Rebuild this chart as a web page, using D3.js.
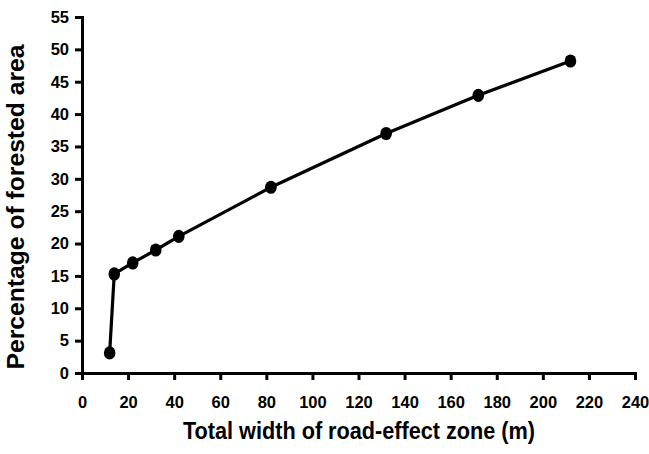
<!DOCTYPE html>
<meta charset="utf-8">
<title>Forested area vs road-effect zone</title>
<style>
  body { margin: 0; background: #fff; }
  text { font-family: 'Liberation Sans', Arial, sans-serif; font-weight: bold; fill: #000; }
  .axis path, .axis line { stroke: #000; stroke-width: 3; }
</style>
<body>
<svg width="649" height="454"></svg>
<script src="https://cdn.jsdelivr.net/npm/d3@7"></script>
<script>

// road-effect zone width (m) and percentage of forested area
var zoneWidth = [12, 14, 22, 32, 42, 82, 132, 172, 212];
var forestPct = [3.1, 15.3, 17.0, 19.0, 21.1, 28.7, 37.0, 42.9, 48.2];
var xTicks = d3.range(0, 241, 20);
var yTicks = d3.range(0, 56, 5);

var svg = d3.select("svg"),
    margin = {top: 17, right: 14, bottom: 81, left: 82},
    width = +svg.attr("width") - margin.left - margin.right,
    height = +svg.attr("height") - margin.top - margin.bottom;

var g = svg.append("g")
    .attr("transform", "translate(" + margin.left + "," + margin.top + ")");

var x = d3.scaleLinear().domain([0, 240]).range([0, width]);
var y = d3.scaleLinear().domain([0, 55]).range([height, 0]);

var xAxis = g.append("g")
    .attr("class", "axis")
    .attr("transform", "translate(0," + height + ")")
    .call(d3.axisBottom(x).tickValues(xTicks).tickSize(7).tickSizeOuter(0).tickPadding(16));

var yAxis = g.append("g")
    .attr("class", "axis")
    .call(d3.axisLeft(y).tickValues(yTicks).tickSize(7).tickSizeOuter(0).tickPadding(6));

xAxis.selectAll("text").style("font-size", "16.5px").attr("fill", "#000");
yAxis.selectAll("text").style("font-size", "16.5px").attr("fill", "#000");
svg.selectAll(".axis path").attr("stroke-linecap", "square");

var pts = zoneWidth.map(function (d, i) { return [d, forestPct[i]]; });

var line = d3.line()
    .x(function (d) { return x(d[0]); })
    .y(function (d) { return y(d[1]); });

g.append("path")
    .datum(pts)
    .attr("fill", "none")
    .attr("stroke", "#000")
    .attr("stroke-width", 3.2)
    .attr("stroke-linejoin", "round")
    .attr("d", line);

g.selectAll(".dot")
    .data(pts)
    .enter().append("ellipse")
    .attr("class", "dot")
    .attr("cx", function (d) { return x(d[0]); })
    .attr("cy", function (d) { return y(d[1]); })
    .attr("rx", 5.8)
    .attr("ry", 6.6)
    .attr("fill", "#000");

// axis titles
svg.append("text")
    .attr("x", 359)
    .attr("y", 439)
    .attr("text-anchor", "middle")
    .style("font-size", "23px")
    .attr("textLength", 352)
    .attr("lengthAdjust", "spacingAndGlyphs")
    .text("Total width of road-effect zone (m)");

svg.append("text")
    .attr("transform", "translate(24,207) rotate(-90)")
    .attr("text-anchor", "middle")
    .style("font-size", "23px")
    .attr("textLength", 325)
    .attr("lengthAdjust", "spacingAndGlyphs")
    .text("Percentage of forested area");

</script>
</body>
